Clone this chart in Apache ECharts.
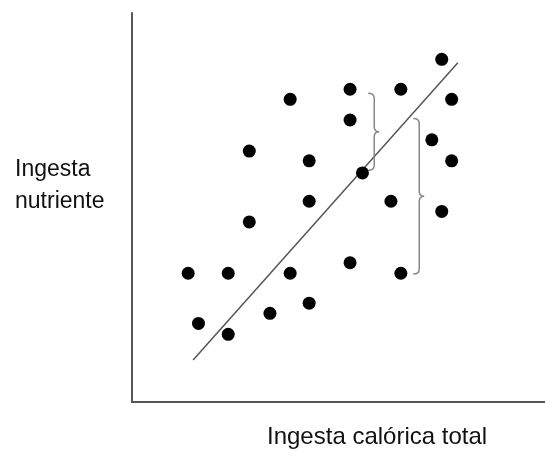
<!DOCTYPE html>
<html>

<head>
  <meta charset="utf-8">
  <style>
    html,
    body {
      width: 100%;
      height: 100%;
      margin: 0;
      padding: 0;
      overflow: hidden;
      background-color: #fff;
    }

    #container {
      width: 545px;
      height: 456px;
      position: absolute;
      top: 0;
      left: 0;
    }
  </style>
</head>

<body>
  <div id="container"></div>

  <script src="https://cdn.jsdelivr.net/npm/echarts@6/dist/echarts.min.js"></script>
  <script>
    // data points (calorie intake, nutrient intake)
    var caloric = [75.0, 52.8, 65.1, 38.3, 77.4, 52.8, 72.6, 28.4, 42.9, 77.4, 55.8, 42.9,
      62.7, 75.0, 28.4, 13.6, 23.3, 38.3, 52.8, 65.1, 42.9, 16.1, 33.4, 23.3];
    var nutrient = [88.1, 80.4, 80.4, 77.8, 77.8, 72.5, 67.4, 64.5, 62.0, 62.0, 58.9, 51.6,
      51.6, 49.0, 46.3, 33.1, 33.1, 33.1, 35.8, 33.1, 25.4, 20.2, 22.8, 17.4];

    // regression line ends
    var fitX = [14.8, 78.9];
    var fitY = [10.8, 87.2];

    // residual braces: x, top, bottom
    var braceX = [57.2, 68.1];
    var braceTop = [79.4, 72.9];
    var braceBottom = [59.6, 32.9];

    var yLabel = 'Ingesta\nnutriente';
    var xLabel = 'Ingesta calórica total';

    var chart = echarts.init(document.getElementById('container'));

    var axisStyle = {
      show: true,
      lineStyle: { color: '#555', width: 2 }
    };

    chart.setOption({
      animation: false,
      grid: { left: 132, right: 0, top: 13, bottom: 54 },
      xAxis: {
        type: 'value', min: 0, max: 100,
        axisLine: axisStyle, axisTick: { show: false },
        axisLabel: { show: false }, splitLine: { show: false }
      },
      yAxis: {
        type: 'value', min: 0, max: 100,
        axisLine: axisStyle, axisTick: { show: false },
        axisLabel: { show: false }, splitLine: { show: false }
      },
      graphic: [
        {
          type: 'text', left: 15, top: 154,
          style: {
            text: yLabel, fontFamily: 'Liberation Sans, Arial, sans-serif',
            fontSize: 23, lineHeight: 32, fill: '#111'
          }
        },
        {
          type: 'text', left: 267, top: 425,
          style: {
            text: xLabel, fontFamily: 'Liberation Sans, Arial, sans-serif',
            fontSize: 24, fill: '#111'
          }
        }
      ],
      series: [
        {
          type: 'line',
          data: fitX.map(function (x, i) { return [x, fitY[i]]; }),
          symbol: 'none',
          lineStyle: { color: '#555', width: 1.5 },
          z: 1
        },
        {
          type: 'custom',
          data: braceX.map(function (x, i) { return [x, braceTop[i], braceBottom[i]]; }),
          renderItem: function (params, api) {
            var top = api.coord([api.value(0), api.value(1)]);
            var bot = api.coord([api.value(0), api.value(2)]);
            var x0 = top[0], s = x0 + 6, t = x0 + 11;
            var y1 = top[1], y2 = bot[1], m = (y1 + y2) / 2, r = 5;
            var d = 'M' + x0 + ',' + y1 +
              ' Q' + s + ',' + y1 + ' ' + s + ',' + (y1 + r) +
              ' L' + s + ',' + (m - r) +
              ' Q' + s + ',' + m + ' ' + t + ',' + m +
              ' Q' + s + ',' + m + ' ' + s + ',' + (m + r) +
              ' L' + s + ',' + (y2 - r) +
              ' Q' + s + ',' + y2 + ' ' + x0 + ',' + y2;
            return {
              type: 'path',
              shape: { pathData: d },
              style: { fill: 'none', stroke: '#888', lineWidth: 1.5 }
            };
          },
          z: 2
        },
        {
          type: 'scatter',
          data: caloric.map(function (x, i) { return [x, nutrient[i]]; }),
          symbolSize: 13,
          itemStyle: { color: '#000', opacity: 1 },
          z: 3
        }
      ]
    });
  </script>
</body>

</html>
